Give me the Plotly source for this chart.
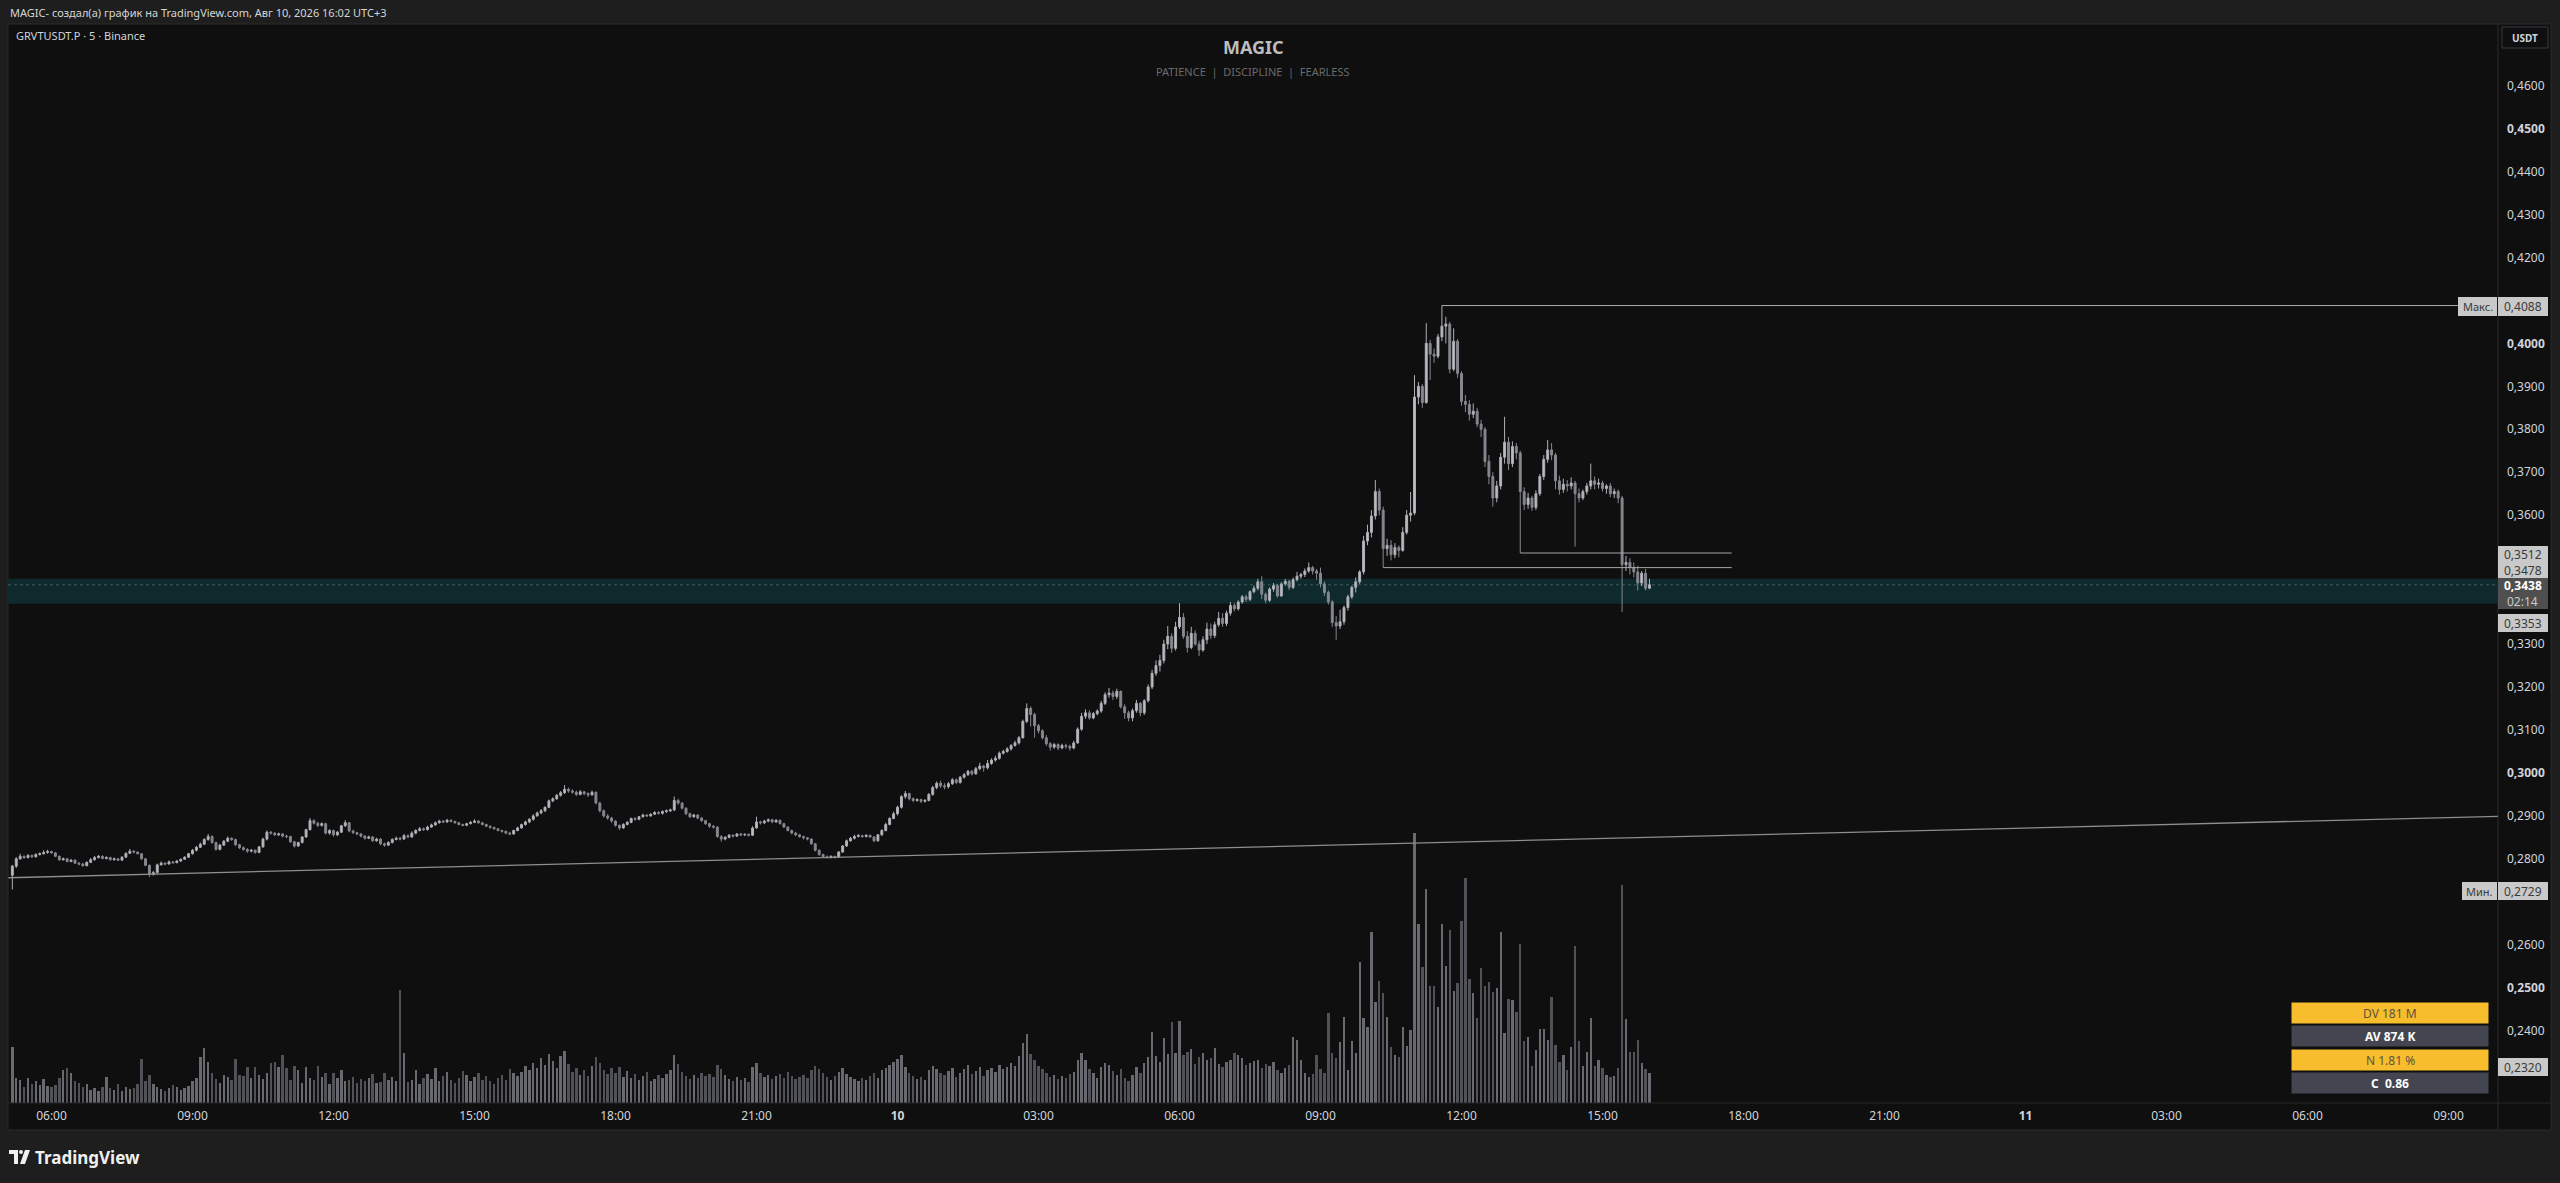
import pandas as pd
import plotly.graph_objects as go

# 5-minute bars, GRVTUSDT.P, from 2026-08-09 05:10 to 2026-08-10 16:00
first_open = 0.2762
closes = [
    # 9 Aug 05:10-05:55
    0.2783, 0.2800, 0.2806, 0.2803, 0.2808, 0.2805, 0.2810, 0.2812, 0.2815, 0.2817,
    # 06
    0.2814, 0.2806, 0.2798, 0.2800, 0.2794, 0.2797, 0.2790, 0.2788, 0.2784, 0.2792, 0.2798, 0.2803,
    # 07
    0.2806, 0.2801, 0.2803, 0.2798, 0.2800, 0.2797, 0.2804, 0.2813, 0.2818, 0.2816, 0.2812, 0.2800,
    # 08
    0.2785, 0.2764, 0.2768, 0.2786, 0.2790, 0.2788, 0.2793, 0.2791, 0.2795, 0.2799, 0.2804, 0.2812,
    # 09
    0.2820, 0.2827, 0.2834, 0.2845, 0.2852, 0.2838, 0.2822, 0.2832, 0.2841, 0.2848, 0.2845, 0.2833,
    # 10
    0.2826, 0.2822, 0.2818, 0.2820, 0.2815, 0.2828, 0.2846, 0.2862, 0.2860, 0.2856, 0.2858, 0.2853,
    # 11
    0.2852, 0.2840, 0.2830, 0.2838, 0.2851, 0.2868, 0.2889, 0.2883, 0.2878, 0.2882, 0.2860, 0.2866,
    # 12
    0.2856, 0.2862, 0.2877, 0.2884, 0.2865, 0.2861, 0.2858, 0.2853, 0.2848, 0.2851, 0.2842, 0.2846,
    # 13
    0.2835, 0.2832, 0.2838, 0.2845, 0.2848, 0.2846, 0.2854, 0.2851, 0.2860, 0.2866, 0.2870, 0.2868,
    # 14
    0.2874, 0.2879, 0.2884, 0.2888, 0.2886, 0.2890, 0.2887, 0.2884, 0.2880, 0.2878, 0.2882, 0.2885,
    # 15
    0.2888, 0.2884, 0.2880, 0.2876, 0.2873, 0.2870, 0.2866, 0.2864, 0.2860, 0.2858, 0.2866, 0.2872,
    # 16
    0.2880, 0.2886, 0.2892, 0.2900, 0.2907, 0.2912, 0.2920, 0.2935, 0.2940, 0.2948, 0.2954, 0.2962,
    # 17
    0.2958, 0.2955, 0.2950, 0.2956, 0.2952, 0.2949, 0.2955, 0.2930, 0.2912, 0.2900, 0.2895, 0.2888,
    # 18
    0.2878, 0.2872, 0.2880, 0.2885, 0.2894, 0.2892, 0.2898, 0.2902, 0.2900, 0.2904, 0.2908, 0.2906,
    # 19
    0.2910, 0.2912, 0.2914, 0.2936, 0.2930, 0.2918, 0.2905, 0.2898, 0.2902, 0.2895, 0.2889, 0.2882,
    # 20
    0.2876, 0.2874, 0.2852, 0.2846, 0.2850, 0.2855, 0.2853, 0.2858, 0.2856, 0.2857, 0.2855, 0.2872,
    # 21
    0.2886, 0.2884, 0.2888, 0.2891, 0.2886, 0.2890, 0.2882, 0.2874, 0.2866, 0.2860, 0.2856, 0.2852,
    # 22
    0.2849, 0.2846, 0.2835, 0.2820, 0.2810, 0.2805, 0.2803, 0.2806, 0.2804, 0.2816, 0.2830, 0.2842,
    # 23
    0.2848, 0.2852, 0.2854, 0.2852, 0.2855, 0.2851, 0.2842, 0.2856, 0.2866, 0.2880, 0.2894, 0.2905,
    # 10 Aug 00
    0.2920, 0.2945, 0.2952, 0.2940, 0.2936, 0.2938, 0.2934, 0.2936, 0.2950, 0.2966, 0.2976, 0.2970,
    # 01
    0.2968, 0.2975, 0.2984, 0.2978, 0.2990, 0.2996, 0.3004, 0.2998, 0.3010, 0.3016, 0.3012, 0.3022,
    # 02
    0.3030, 0.3034, 0.3046, 0.3050, 0.3056, 0.3064, 0.3070, 0.3082, 0.3120, 0.3150, 0.3136, 0.3110,
    # 03
    0.3098, 0.3082, 0.3068, 0.3060, 0.3066, 0.3058, 0.3064, 0.3062, 0.3058, 0.3070, 0.3102, 0.3132,
    # 04
    0.3140, 0.3128, 0.3138, 0.3144, 0.3162, 0.3182, 0.3186, 0.3178, 0.3190, 0.3154, 0.3140, 0.3128,
    # 05
    0.3145, 0.3162, 0.3140, 0.3168, 0.3200, 0.3232, 0.3250, 0.3262, 0.3300, 0.3318, 0.3290, 0.3340,
    # 06
    0.3362, 0.3318, 0.3292, 0.3325, 0.3300, 0.3286, 0.3310, 0.3335, 0.3320, 0.3345, 0.3360, 0.3348,
    # 07
    0.3372, 0.3390, 0.3382, 0.3398, 0.3410, 0.3404, 0.3422, 0.3430, 0.3445, 0.3416, 0.3402, 0.3428,
    # 08
    0.3436, 0.3412, 0.3440, 0.3446, 0.3432, 0.3450, 0.3458, 0.3462, 0.3470, 0.3478, 0.3470, 0.3465,
    # 09
    0.3440, 0.3420, 0.3398, 0.3350, 0.3342, 0.3352, 0.3385, 0.3410, 0.3432, 0.3445, 0.3468, 0.3540,
    # 10
    0.3560, 0.3598, 0.3655, 0.3612, 0.3522, 0.3530, 0.3508, 0.3525, 0.3518, 0.3560, 0.3600, 0.3605,
    # 11
    0.3875, 0.3900, 0.3862, 0.4000, 0.3975, 0.3970, 0.4015, 0.4040, 0.4045, 0.3940, 0.4005, 0.3930,
    # 12
    0.3865, 0.3858, 0.3835, 0.3842, 0.3812, 0.3800, 0.3725, 0.3690, 0.3640, 0.3668, 0.3735, 0.3770,
    # 13
    0.3720, 0.3760, 0.3745, 0.3655, 0.3625, 0.3640, 0.3618, 0.3650, 0.3690, 0.3730, 0.3752, 0.3740,
    # 14
    0.3680, 0.3660, 0.3672, 0.3668, 0.3675, 0.3650, 0.3640, 0.3655, 0.3668, 0.3680, 0.3672, 0.3675,
    # 15
    0.3662, 0.3668, 0.3650, 0.3655, 0.3640, 0.3485, 0.3490, 0.3478, 0.3468, 0.3442, 0.3465, 0.3430,
    # 16:00
    0.3438,
]
highs = [
    0.2786, 0.2804, 0.2812, 0.2808, 0.2811, 0.2810, 0.2813, 0.2815, 0.2820, 0.2821,
    0.2819, 0.2816, 0.2808, 0.2803, 0.2802, 0.2799, 0.2799, 0.2793, 0.2791, 0.2794, 0.2802, 0.2807,
    0.2809, 0.2808, 0.2806, 0.2805, 0.2803, 0.2802, 0.2806, 0.2815, 0.2823, 0.2820, 0.2817, 0.2813,
    0.2802, 0.2787, 0.2772, 0.2789, 0.2794, 0.2792, 0.2796, 0.2795, 0.2797, 0.2801, 0.2806, 0.2814,
    0.2823, 0.2830, 0.2838, 0.2848, 0.2858, 0.2855, 0.2840, 0.2835, 0.2844, 0.2852, 0.2850, 0.2847,
    0.2835, 0.2829, 0.2825, 0.2823, 0.2822, 0.2830, 0.2849, 0.2866, 0.2865, 0.2862, 0.2861, 0.2860,
    0.2856, 0.2854, 0.2842, 0.2840, 0.2853, 0.2870, 0.2895, 0.2892, 0.2886, 0.2885, 0.2884, 0.2869,
    0.2868, 0.2865, 0.2879, 0.2890, 0.2886, 0.2868, 0.2863, 0.2860, 0.2855, 0.2854, 0.2853, 0.2849,
    0.2848, 0.2838, 0.2841, 0.2848, 0.2852, 0.2851, 0.2858, 0.2857, 0.2864, 0.2869, 0.2874, 0.2873,
    0.2877, 0.2882, 0.2887, 0.2891, 0.2890, 0.2893, 0.2892, 0.2889, 0.2886, 0.2882, 0.2884, 0.2888,
    0.2892, 0.2890, 0.2886, 0.2882, 0.2878, 0.2875, 0.2872, 0.2868, 0.2866, 0.2863, 0.2868, 0.2875,
    0.2882, 0.2889, 0.2895, 0.2904, 0.2910, 0.2916, 0.2922, 0.2938, 0.2943, 0.2951, 0.2958, 0.2972,
    0.2966, 0.2962, 0.2959, 0.2960, 0.2958, 0.2955, 0.2959, 0.2957, 0.2933, 0.2915, 0.2904, 0.2898,
    0.2890, 0.2880, 0.2883, 0.2888, 0.2896, 0.2897, 0.2900, 0.2905, 0.2904, 0.2906, 0.2911, 0.2911,
    0.2913, 0.2915, 0.2917, 0.2945, 0.2940, 0.2932, 0.2920, 0.2908, 0.2905, 0.2904, 0.2897, 0.2891,
    0.2884, 0.2879, 0.2876, 0.2855, 0.2853, 0.2858, 0.2857, 0.2860, 0.2860, 0.2859, 0.2859, 0.2876,
    0.2898, 0.2889, 0.2891, 0.2894, 0.2893, 0.2892, 0.2891, 0.2884, 0.2876, 0.2868, 0.2863, 0.2858,
    0.2854, 0.2851, 0.2848, 0.2837, 0.2822, 0.2812, 0.2808, 0.2808, 0.2807, 0.2818, 0.2832, 0.2845,
    0.2851, 0.2856, 0.2858, 0.2856, 0.2857, 0.2856, 0.2853, 0.2858, 0.2869, 0.2884, 0.2897, 0.2910,
    0.2924, 0.2948, 0.2958, 0.2954, 0.2943, 0.2941, 0.2940, 0.2939, 0.2953, 0.2970, 0.2980, 0.2982,
    0.2976, 0.2979, 0.2988, 0.2987, 0.2993, 0.3000, 0.3007, 0.3007, 0.3014, 0.3024, 0.3019, 0.3030,
    0.3034, 0.3040, 0.3050, 0.3054, 0.3060, 0.3067, 0.3075, 0.3086, 0.3124, 0.3162, 0.3155, 0.3140,
    0.3114, 0.3102, 0.3088, 0.3072, 0.3070, 0.3069, 0.3068, 0.3068, 0.3066, 0.3075, 0.3106, 0.3140,
    0.3148, 0.3146, 0.3142, 0.3148, 0.3168, 0.3188, 0.3198, 0.3192, 0.3196, 0.3192, 0.3160, 0.3145,
    0.3150, 0.3170, 0.3165, 0.3172, 0.3206, 0.3240, 0.3262, 0.3275, 0.3310, 0.3342, 0.3325, 0.3352,
    0.3395, 0.3372, 0.3330, 0.3340, 0.3332, 0.3308, 0.3318, 0.3350, 0.3348, 0.3352, 0.3375, 0.3372,
    0.3378, 0.3398, 0.3396, 0.3402, 0.3414, 0.3415, 0.3425, 0.3436, 0.3452, 0.3458, 0.3420, 0.3432,
    0.3442, 0.3440, 0.3444, 0.3452, 0.3450, 0.3455, 0.3468, 0.3466, 0.3476, 0.3490, 0.3482, 0.3475,
    0.3478, 0.3446, 0.3425, 0.3402, 0.3365, 0.3380, 0.3390, 0.3415, 0.3436, 0.3455, 0.3472, 0.3552,
    0.3578, 0.3612, 0.3682, 0.3662, 0.3620, 0.3545, 0.3542, 0.3535, 0.3530, 0.3572, 0.3612, 0.3654,
    0.3926, 0.3910, 0.3905, 0.4047, 0.4008, 0.3988, 0.4022, 0.4088, 0.4062, 0.4050, 0.4035, 0.4010,
    0.3935, 0.3880, 0.3868, 0.3860, 0.3850, 0.3822, 0.3805, 0.3740, 0.3700, 0.3680, 0.3745, 0.3829,
    0.3782, 0.3772, 0.3768, 0.3750, 0.3665, 0.3652, 0.3645, 0.3658, 0.3696, 0.3740, 0.3775, 0.3768,
    0.3745, 0.3692, 0.3685, 0.3682, 0.3688, 0.3680, 0.3662, 0.3660, 0.3675, 0.3720, 0.3690, 0.3685,
    0.3680, 0.3672, 0.3675, 0.3662, 0.3660, 0.3645, 0.3505, 0.3500, 0.3490, 0.3482, 0.3470, 0.3475,
    0.3452,
]
lows = [
    0.2729, 0.2779, 0.2798, 0.2800, 0.2801, 0.2802, 0.2803, 0.2808, 0.2810, 0.2812,
    0.2812, 0.2804, 0.2795, 0.2796, 0.2792, 0.2792, 0.2788, 0.2785, 0.2782, 0.2783, 0.2790, 0.2796,
    0.2801, 0.2799, 0.2799, 0.2796, 0.2796, 0.2795, 0.2796, 0.2803, 0.2811, 0.2813, 0.2810, 0.2798,
    0.2783, 0.2758, 0.2761, 0.2766, 0.2785, 0.2785, 0.2787, 0.2789, 0.2790, 0.2793, 0.2798, 0.2802,
    0.2810, 0.2817, 0.2825, 0.2832, 0.2842, 0.2835, 0.2819, 0.2820, 0.2830, 0.2839, 0.2842, 0.2830,
    0.2823, 0.2819, 0.2814, 0.2815, 0.2812, 0.2813, 0.2826, 0.2843, 0.2856, 0.2853, 0.2853, 0.2850,
    0.2848, 0.2837, 0.2826, 0.2828, 0.2836, 0.2849, 0.2866, 0.2880, 0.2874, 0.2875, 0.2857, 0.2856,
    0.2852, 0.2853, 0.2860, 0.2874, 0.2862, 0.2858, 0.2855, 0.2850, 0.2845, 0.2846, 0.2840, 0.2840,
    0.2832, 0.2828, 0.2830, 0.2836, 0.2843, 0.2843, 0.2845, 0.2848, 0.2849, 0.2857, 0.2864, 0.2865,
    0.2866, 0.2872, 0.2877, 0.2882, 0.2884, 0.2884, 0.2885, 0.2882, 0.2878, 0.2876, 0.2876, 0.2880,
    0.2883, 0.2882, 0.2878, 0.2874, 0.2870, 0.2868, 0.2864, 0.2861, 0.2857, 0.2855, 0.2856, 0.2864,
    0.2870, 0.2877, 0.2883, 0.2889, 0.2898, 0.2904, 0.2909, 0.2918, 0.2932, 0.2937, 0.2945, 0.2951,
    0.2954, 0.2952, 0.2946, 0.2948, 0.2948, 0.2944, 0.2947, 0.2927, 0.2908, 0.2896, 0.2891, 0.2884,
    0.2875, 0.2867, 0.2870, 0.2878, 0.2883, 0.2889, 0.2890, 0.2896, 0.2898, 0.2898, 0.2902, 0.2903,
    0.2903, 0.2907, 0.2909, 0.2911, 0.2926, 0.2915, 0.2902, 0.2895, 0.2896, 0.2892, 0.2886, 0.2879,
    0.2872, 0.2870, 0.2849, 0.2840, 0.2843, 0.2848, 0.2850, 0.2851, 0.2853, 0.2853, 0.2852, 0.2853,
    0.2870, 0.2880, 0.2881, 0.2885, 0.2883, 0.2884, 0.2880, 0.2872, 0.2864, 0.2857, 0.2853, 0.2849,
    0.2845, 0.2843, 0.2833, 0.2817, 0.2807, 0.2802, 0.2801, 0.2801, 0.2801, 0.2803, 0.2814, 0.2828,
    0.2840, 0.2845, 0.2850, 0.2849, 0.2850, 0.2849, 0.2839, 0.2840, 0.2853, 0.2864, 0.2878, 0.2892,
    0.2901, 0.2917, 0.2940, 0.2936, 0.2932, 0.2933, 0.2930, 0.2931, 0.2934, 0.2947, 0.2962, 0.2965,
    0.2962, 0.2964, 0.2972, 0.2974, 0.2975, 0.2987, 0.2993, 0.2994, 0.2996, 0.3006, 0.3003, 0.3008,
    0.3019, 0.3026, 0.3031, 0.3043, 0.3047, 0.3052, 0.3061, 0.3066, 0.3080, 0.3116, 0.3108, 0.3082,
    0.3092, 0.3078, 0.3063, 0.3052, 0.3056, 0.3053, 0.3055, 0.3056, 0.3052, 0.3055, 0.3068, 0.3098,
    0.3126, 0.3124, 0.3125, 0.3134, 0.3140, 0.3158, 0.3175, 0.3170, 0.3172, 0.3150, 0.3126, 0.3120,
    0.3120, 0.3140, 0.3132, 0.3135, 0.3164, 0.3195, 0.3226, 0.3236, 0.3255, 0.3288, 0.3280, 0.3285,
    0.3335, 0.3312, 0.3280, 0.3288, 0.3296, 0.3272, 0.3282, 0.3300, 0.3312, 0.3314, 0.3340, 0.3340,
    0.3342, 0.3366, 0.3376, 0.3378, 0.3394, 0.3398, 0.3400, 0.3418, 0.3425, 0.3405, 0.3395, 0.3398,
    0.3422, 0.3408, 0.3410, 0.3436, 0.3426, 0.3428, 0.3446, 0.3452, 0.3456, 0.3466, 0.3462, 0.3450,
    0.3432, 0.3412, 0.3392, 0.3340, 0.3310, 0.3335, 0.3345, 0.3378, 0.3405, 0.3420, 0.3440, 0.3462,
    0.3530, 0.3548, 0.3590, 0.3600, 0.3478, 0.3505, 0.3495, 0.3500, 0.3502, 0.3515, 0.3555, 0.3585,
    0.3600, 0.3858, 0.3850, 0.3860, 0.3915, 0.3955, 0.3965, 0.4005, 0.4000, 0.3930, 0.3935, 0.3920,
    0.3855, 0.3840, 0.3820, 0.3826, 0.3805, 0.3782, 0.3712, 0.3672, 0.3620, 0.3630, 0.3660, 0.3720,
    0.3705, 0.3712, 0.3730, 0.3512, 0.3612, 0.3615, 0.3610, 0.3612, 0.3645, 0.3682, 0.3722, 0.3728,
    0.3660, 0.3648, 0.3652, 0.3655, 0.3660, 0.3527, 0.3630, 0.3635, 0.3648, 0.3660, 0.3660, 0.3662,
    0.3655, 0.3650, 0.3642, 0.3640, 0.3628, 0.3375, 0.3470, 0.3462, 0.3455, 0.3425, 0.3435, 0.3425,
    0.3428,
]
# volume per bar, thousands
volumes = [
    2240, 1000, 920, 640, 1000, 760, 880, 720, 960, 680,
    640, 720, 1000, 1320, 1400, 1200, 880, 800, 640, 760, 520, 600,
    480, 640, 1040, 600, 520, 760, 480, 640, 560, 600, 760, 1760,
    880, 1120, 760, 640, 560, 480, 600, 720, 640, 520, 600, 680,
    880, 1000, 1840, 2200, 1640, 1200, 960, 800, 1120, 1040, 920, 1760,
    1120, 1080, 1440, 1000, 1440, 1120, 960, 1200, 1600, 1640, 1440, 1920,
    1400, 920, 1480, 1320, 800, 1440, 1000, 920, 1480, 1040, 1200, 760,
    1200, 1000, 1320, 880, 920, 1040, 800, 960, 880, 1000, 1160, 800,
    840, 1200, 920, 1040, 880, 4520, 2000, 840, 920, 1320, 760, 1000,
    1160, 960, 1400, 880, 1080, 1240, 920, 800, 1000, 1280, 1120, 880,
    1040, 1200, 920, 1080, 880, 760, 1000, 1120, 920, 1360, 1200, 1080,
    1240, 1480, 1320, 1600, 1400, 1800, 1520, 1960, 1680, 1400, 1880, 2080,
    1560, 1240, 1400, 1120, 1320, 1080, 1480, 1840, 1600, 1320, 1160, 1400,
    1200, 1440, 1040, 1280, 1000, 1160, 920, 1080, 1240, 880, 960, 1120,
    1000, 1160, 1320, 1920, 1560, 1240, 1080, 960, 1120, 1000, 1200, 1080,
    1160, 1040, 1520, 1360, 1120, 960, 880, 1040, 920, 1000, 840, 1440,
    1600, 1200, 1040, 1120, 960, 1080, 1160, 1000, 1240, 1080, 960, 1040,
    1120, 1000, 1320, 1480, 1360, 1200, 1040, 920, 1080, 1240, 1400, 1160,
    1040, 960, 880, 1000, 920, 1080, 1200, 1000, 1320, 1400, 1520, 1640,
    1760, 1920, 1440, 1200, 1080, 960, 1040, 920, 1320, 1480, 1360, 1200,
    1120, 1280, 1400, 1040, 1200, 1360, 1520, 1160, 1280, 1440, 1080, 1320,
    1400, 1240, 1520, 1360, 1440, 1600, 1480, 1880, 2400, 2760, 1960, 1720,
    1480, 1360, 1200, 1040, 1120, 960, 1080, 1000, 1160, 1240, 1720, 2000,
    1720, 1360, 1200, 1000, 1440, 1600, 1520, 1280, 1120, 1360, 1000, 880,
    1120, 1440, 1200, 1600, 1840, 2840, 1880, 1640, 2600, 1960, 3240, 2000,
    3280, 1920, 2040, 2160, 1560, 1840, 2000, 1720, 1800, 2200, 1560, 1440,
    1640, 1720, 2000, 1920, 1800, 1520, 1600, 1680, 1720, 1400, 1560, 1480,
    1640, 1320, 1200, 1400, 1520, 2640, 2520, 1720, 1200, 1040, 1160, 1920,
    1360, 1200, 3600, 2000, 1800, 2440, 3440, 1320, 2480, 2000, 5640, 3400,
    3040, 6840, 4040, 4880, 4400, 3440, 2240, 1920, 1840, 3040, 2280, 2920,
    10800, 7160, 5440, 8560, 4680, 4680, 3840, 7160, 5480, 6920, 4480, 4800,
    7280, 9000, 4960, 4400, 3400, 5400, 4680, 4840, 4440, 4600, 6840, 2800,
    4160, 4120, 3640, 6360, 2480, 2640, 1480, 2120, 2960, 2960, 2520, 4240,
    2320, 1640, 1920, 1320, 2240, 6280, 2480, 1480, 2040, 3400, 1480, 1720,
    1400, 1120, 1040, 1080, 1400, 8720, 3360, 2040, 2040, 2520, 1600, 1360,
    1200,
]

# ticks hidden behind the price labels (0.23, 0.27, 0.34, 0.41) are left out
price_ticks = [0.24, 0.25, 0.26, 0.28, 0.29, 0.30, 0.31, 0.32, 0.33,
               0.35, 0.36, 0.37, 0.38, 0.39, 0.40, 0.42, 0.43, 0.44, 0.45, 0.46]
time_ticks = ["2026-08-09 06:00", "2026-08-09 09:00", "2026-08-09 12:00", "2026-08-09 15:00",
              "2026-08-09 18:00", "2026-08-09 21:00", "2026-08-10 00:00", "2026-08-10 03:00",
              "2026-08-10 06:00", "2026-08-10 09:00", "2026-08-10 12:00", "2026-08-10 15:00",
              "2026-08-10 18:00", "2026-08-10 21:00", "2026-08-11 00:00", "2026-08-11 03:00",
              "2026-08-11 06:00", "2026-08-11 09:00"]
time_labels = ["06:00", "09:00", "12:00", "15:00", "18:00", "21:00", "<b>10</b>", "03:00",
               "06:00", "09:00", "12:00", "15:00", "18:00", "21:00", "<b>11</b>", "03:00",
               "06:00", "09:00"]

max_price, min_price, last_price = 0.4088, 0.2729, 0.3438
low_levels = [0.3512, 0.3478]
stats = [("DV 181 M", "#f7bd2c", "#5b5340"), ("AV 874 K", "#434651", "#ffffff"),
         ("N 1.81 %", "#f7bd2c", "#5b5340"), ("C  0.86", "#434651", "#ffffff")]

times = pd.date_range("2026-08-09 05:10", periods=len(closes), freq="5min")
opens = [first_open] + closes[:-1]
highs = [max(h, o, c) for h, o, c in zip(highs, opens, closes)]
lows = [min(l, o, c) for l, o, c in zip(lows, opens, closes)]
vol_colors = ["#686a70" if c >= o else "#505258" for o, c in zip(opens, closes)]

FONT = "Noto Sans"
W, H = 2560, 1183
L, R, T, B = 8, 2498, 24, 1103  # plot area in pixels


def px(x):
    return (x - L) / (R - L)


def py(y):
    return (B - y) / (B - T)


def note(text, x, y, size, color, anchor="center"):
    return dict(text=text, x=x, y=y, xref="paper", yref="paper", xanchor=anchor,
                yanchor="middle", showarrow=False, font=dict(size=size, color=color))


fig = go.Figure()
fig.add_trace(
    go.Bar(
        x=times,
        y=volumes,
        yaxis="y2",
        marker=dict(color=vol_colors, line=dict(width=0)),
        width=5 * 60 * 1000 * 0.6,
        hoverinfo="skip",
    )
)
fig.add_trace(
    go.Candlestick(
        x=times,
        open=opens,
        high=highs,
        low=lows,
        close=closes,
        increasing=dict(line=dict(color="#aeb0b7", width=1), fillcolor="#bcbec4"),
        decreasing=dict(line=dict(color="#85888f", width=1), fillcolor="#85888f"),
        whiskerwidth=0,
        hoverinfo="skip",
    )
)

shapes = [
    # chart pane
    dict(type="rect", xref="paper", yref="paper", x0=px(8), x1=px(2551), y0=py(1130), y1=py(24),
         fillcolor="#0f0f0f", line=dict(color="#2a2a2a", width=1), layer="below"),
    # teal zone
    dict(type="rect", xref="paper", yref="y", x0=0, x1=1, y0=0.3394, y1=0.3452,
         fillcolor="#0e2a2c", line=dict(width=0), layer="below"),
    dict(type="line", xref="paper", yref="y", x0=0, x1=1, y0=last_price, y1=last_price,
         line=dict(color="#3f5c5e", width=1, dash="dot"), layer="below"),
    # axis separators
    dict(type="line", xref="paper", yref="paper", x0=1, x1=1, y0=py(1130), y1=py(24),
         line=dict(color="#2a2a2a", width=1)),
    dict(type="line", xref="paper", yref="paper", x0=0, x1=px(2551), y0=0, y1=0,
         line=dict(color="#262626", width=1)),
    # trend line
    dict(type="line", xref="x", yref="y", x0="2026-08-09 05:05", y0=0.2756,
         x1="2026-08-11 10:03", y1=0.2899, line=dict(color="#8e8e8e", width=1.3)),
    # max line
    dict(type="line", xref="x", yref="y", x0="2026-08-10 11:35", y0=max_price,
         x1="2026-08-11 09:12", y1=max_price, line=dict(color="#b0b0b0", width=1)),
    # unmitigated lows
    dict(type="line", xref="x", yref="y", x0="2026-08-10 13:15", y0=low_levels[0],
         x1="2026-08-10 17:45", y1=low_levels[0], line=dict(color="#a5a5a5", width=1)),
    dict(type="line", xref="x", yref="y", x0="2026-08-10 10:20", y0=low_levels[1],
         x1="2026-08-10 17:45", y1=low_levels[1], line=dict(color="#a5a5a5", width=1)),
    # USDT box
    dict(type="rect", xref="paper", yref="paper", x0=px(2502), x1=px(2548), y0=py(48), y1=py(27),
         fillcolor="#0f0f0f", line=dict(color="#363a45", width=1)),
]

annotations = [
    note("MAGIC- создал(а) график на TradingView.com, Авг 10, 2026 16:02 UTC+3",
         px(8), py(12), 11, "#d6d6d6", "left"),
    note("GRVTUSDT.P · 5 · Binance", px(14), py(36), 11, "#d1d4dc", "left"),
    note("<b>MAGIC</b>", 0.5, py(47), 18, "#bdbdbd"),
    note("PATIENCE  |  DISCIPLINE  |  FEARLESS", 0.5, py(71), 11, "#6a6a6a"),
    note("<b>TradingView</b>", px(33), py(1157), 17, "#f0f0f0", "left"),
    note("<b>USDT</b>", px(2525), py(37.5), 10, "#d1d4dc"),
]

# TradingView logo
shapes += [
    dict(type="rect", xref="paper", yref="paper", x0=px(9), x1=px(18), y0=py(1154), y1=py(1150),
         fillcolor="#f0f0f0", line=dict(width=0)),
    dict(type="rect", xref="paper", yref="paper", x0=px(14), x1=px(18), y0=py(1164), y1=py(1150),
         fillcolor="#f0f0f0", line=dict(width=0)),
    dict(type="circle", xref="paper", yref="paper", x0=px(19), x1=px(23), y0=py(1154), y1=py(1150),
         fillcolor="#f0f0f0", line=dict(width=0)),
    dict(type="path", xref="paper", yref="paper",
         path=f"M {px(25)},{py(1150)} L {px(30)},{py(1150)} L {px(25)},{py(1164)} "
              f"L {px(20)},{py(1164)} Z",
         fillcolor="#f0f0f0", line=dict(width=0)),
]


def price_box(x0, x1, y0, y1, fill, lines, colors, size=12):
    shapes.append(dict(type="rect", xref="paper", yref="paper", x0=px(x0), x1=px(x1),
                       y0=py(y1), y1=py(y0), fillcolor=fill, line=dict(width=0)))
    step = (y1 - y0) / len(lines)
    for i, (t, c) in enumerate(zip(lines, colors)):
        annotations.append(note(t, px((x0 + x1) / 2), py(y0 + step * (i + 0.5)), size, c))


def fmt(p):
    return f"{p:.4f}".replace(".", ",")


price_box(2458, 2497, 297, 316, "#c9c9c9", ["Макс."], ["#3a3a3a"], 11)
price_box(2498, 2548, 297, 316, "#c9c9c9", [fmt(max_price)], ["#3a3a3a"])
price_box(2498, 2548, 546, 578, "#c9c9c9", [fmt(v) for v in low_levels], ["#3a3a3a"] * 2)
price_box(2498, 2548, 578, 609, "#4f4f4f", ["<b>" + fmt(last_price) + "</b>", "02:14"],
          ["#ffffff", "#c9c9c9"])
price_box(2498, 2548, 614, 632, "#c9c9c9", ["0,3353"], ["#3a3a3a"])
price_box(2462, 2497, 882, 900, "#c9c9c9", ["Мин."], ["#3a3a3a"], 11)
price_box(2498, 2548, 882, 900, "#c9c9c9", [fmt(min_price)], ["#3a3a3a"])
price_box(2498, 2548, 1058, 1076, "#c9c9c9", ["0,2320"], ["#3a3a3a"])

# stats table
row_top = [1002, 1025, 1049, 1072]
for top, (label, bg, fg) in zip(row_top, stats):
    text = label if fg != "#ffffff" else f"<b>{label}</b>"
    shapes.append(dict(type="rect", xref="paper", yref="paper", x0=px(2291), x1=px(2489),
                       y0=py(top + 22), y1=py(top), fillcolor=bg,
                       line=dict(color="#0f0f0f", width=1)))
    annotations.append(note(text, px(2390), py(top + 11), 12, fg))

price_text = [f"<b>{fmt(p)}</b>" if round(p * 100) % 5 == 0 else fmt(p) for p in price_ticks]

fig.update_layout(
    width=W,
    height=H,
    margin=dict(l=L, r=W - R, t=T, b=H - B),
    paper_bgcolor="#1e1e1e",
    plot_bgcolor="#0f0f0f",
    showlegend=False,
    font=dict(family=FONT, color="#d1d4dc"),
    bargap=0,
    shapes=shapes,
    annotations=annotations,
    xaxis=dict(
        type="date",
        range=["2026-08-09 05:04:28", "2026-08-11 10:03:11"],
        rangeslider=dict(visible=False),
        showgrid=False,
        zeroline=False,
        showline=False,
        tickvals=time_ticks,
        ticktext=time_labels,
        tickfont=dict(size=12, color="#d1d4dc"),
        ticks="",
        ticklabelstandoff=4,
    ),
    yaxis=dict(
        side="right",
        range=[0.22317, 0.47434],
        showgrid=False,
        zeroline=False,
        showline=False,
        tickvals=price_ticks,
        ticktext=price_text,
        tickfont=dict(size=12, color="#d1d4dc"),
        ticks="",
        ticklabelstandoff=8,
    ),
    yaxis2=dict(overlaying="y", range=[0, 43200], visible=False),
)

fig.write_html(
    "out.html",
    config={"displayModeBar": False},
    post_script="document.body.style.margin='0';document.body.style.overflow='hidden';",
)
